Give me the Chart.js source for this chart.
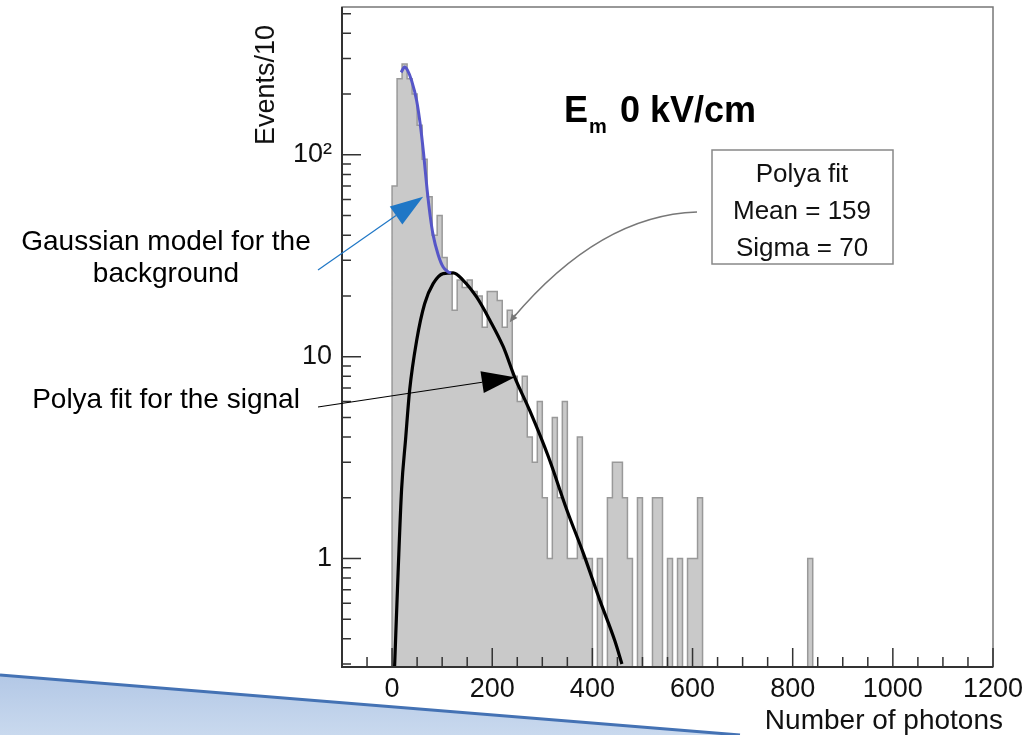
<!DOCTYPE html>
<html>
<head>
<meta charset="utf-8">
<script src="https://cdn.jsdelivr.net/npm/chart.js@4.4.1/dist/chart.umd.min.js"></script>
<style>
  html, body { margin: 0; padding: 0; background: #fff; }
  #wrap { width: 1024px; height: 735px; }
</style>
</head>
<body>
<div id="wrap"><canvas id="chart" width="1024" height="735"></canvas></div>
<script>
const FONT = "'Liberation Sans', Arial, Helvetica, sans-serif";

// axis ranges
const X_MIN = -100;
const X_MAX = 1200;
const Y_MIN = 0.29;
const Y_MAX = 540;
const xTicks = [0, 200, 400, 600, 800, 1000, 1200];
const yTicks = [1, 10, 100];

// histogram: events per 10 photons, bins start at 0
const BIN_START = 0;
const BIN_WIDTH = 10;
const counts = [
  70, 238, 282, 238, 200, 140, 95, 62, 40, 50,
  31, 26, 17, 24, 22, 24, 21, 20, 14, 21,
  21, 19, 14, 17, 8, 6, 8, 4, 3, 6,
  2, 1, 5, 2, 6, 1, 1, 4, 1, 1,
  0, 1, 0, 2, 3, 3, 2, 1, 0, 2,
  0, 0, 2, 2, 0, 1, 0, 1, 0, 1,
  1, 2, 0, 0, 0, 0, 0, 0, 0, 0,
  0, 0, 0, 0, 0, 0, 0, 0, 0, 0,
  0, 0, 0, 1, 0,
];

// Gaussian background model (blue)
const gaussX = [18, 25, 31, 39, 49, 57, 63, 70, 76, 82, 92, 102, 112, 118];
const gaussY = [256, 272, 262, 233, 186, 137, 101, 67, 50, 40, 32, 27.8, 26.3, 26];

// Polya fit for the signal (black)
const polyaX = [5, 12, 19, 27, 35, 49, 65, 82, 102, 122, 142, 169, 195, 222, 245, 275, 312, 349, 382, 415, 445, 459];
const polyaY = [0.29, 0.85, 2.2, 3.9, 6.8, 12, 18.3, 23, 25.8, 26, 23.9, 19.7, 15.2, 11.2, 7.9, 5.4, 3.2, 1.74, 1.06, 0.62, 0.39, 0.3];

// empty bins drop below the visible axis
const FLOOR = 0.05;
const histPoints = [{ x: BIN_START, y: FLOOR }];
counts.forEach((c, i) => histPoints.push({ x: BIN_START + i * BIN_WIDTH, y: c > 0 ? c : FLOOR }));
histPoints.push({ x: BIN_START + counts.length * BIN_WIDTH, y: FLOOR });

function drawArrow(ctx, x0, y0, x1, y1, headLen, headHalf, color, lw) {
  const ang = Math.atan2(y1 - y0, x1 - x0);
  const bx = x1 - headLen * Math.cos(ang);
  const by = y1 - headLen * Math.sin(ang);
  ctx.save();
  ctx.strokeStyle = color;
  ctx.fillStyle = color;
  ctx.lineWidth = lw;
  ctx.beginPath();
  ctx.moveTo(x0, y0);
  ctx.lineTo(bx, by);
  ctx.stroke();
  ctx.beginPath();
  ctx.moveTo(x1, y1);
  ctx.lineTo(bx + headHalf * Math.sin(ang), by - headHalf * Math.cos(ang));
  ctx.lineTo(bx - headHalf * Math.sin(ang), by + headHalf * Math.cos(ang));
  ctx.closePath();
  ctx.fill();
  ctx.restore();
}

const slideBackdrop = {
  id: "slideBackdrop",
  beforeDraw(chart) {
    const { ctx } = chart;
    ctx.save();
    ctx.fillStyle = "#fff";
    ctx.fillRect(0, 0, chart.width, chart.height);
    const g = ctx.createLinearGradient(0, 676, 0, 735);
    g.addColorStop(0, "#b3c8e6");
    g.addColorStop(1, "#c9d9ee");
    ctx.beginPath();
    ctx.moveTo(0, 675);
    ctx.lineTo(740, 735);
    ctx.lineTo(0, 735);
    ctx.closePath();
    ctx.fillStyle = g;
    ctx.fill();
    ctx.beginPath();
    ctx.moveTo(0, 675);
    ctx.lineTo(740, 735);
    ctx.strokeStyle = "#4472b4";
    ctx.lineWidth = 3;
    ctx.stroke();
    ctx.restore();
  },
};

const rootDecor = {
  id: "rootDecor",
  afterDraw(chart) {
    const { ctx, chartArea: a } = chart;
    const x = chart.scales.x;
    const y = chart.scales.y;
    ctx.save();

    // frame
    ctx.strokeStyle = "#777";
    ctx.lineWidth = 1.5;
    ctx.strokeRect(a.left, a.top, a.right - a.left, a.bottom - a.top);
    ctx.strokeStyle = "#333";
    ctx.lineWidth = 2;
    ctx.beginPath();
    ctx.moveTo(a.left, a.top);
    ctx.lineTo(a.left, a.bottom);
    ctx.lineTo(a.right, a.bottom);
    ctx.stroke();

    // inward ticks
    ctx.lineWidth = 1.5;
    ctx.strokeStyle = "#333";
    ctx.beginPath();
    for (let v = -50; v <= X_MAX; v += 50) {
      const px = x.getPixelForValue(v);
      const len = v % 200 === 0 ? 19 : 10;
      ctx.moveTo(px, a.bottom);
      ctx.lineTo(px, a.bottom - len);
    }
    for (const d of [0.1, 1, 10, 100]) {
      for (let m = 1; m <= 9; m++) {
        const v = m * d;
        if (v < Y_MIN || v > Y_MAX) continue;
        const py = y.getPixelForValue(v);
        const len = m === 1 ? 19 : 9;
        ctx.moveTo(a.left, py);
        ctx.lineTo(a.left + len, py);
      }
    }
    ctx.stroke();

    // axis titles
    ctx.fillStyle = "#111";
    ctx.font = `27px ${FONT}`;
    ctx.textAlign = "center";
    ctx.textBaseline = "middle";
    ctx.save();
    ctx.translate(267, 85);
    ctx.rotate(-Math.PI / 2);
    ctx.fillText("Events/10", 0, 0);
    ctx.restore();
    ctx.font = `28px ${FONT}`;
    ctx.textAlign = "right";
    ctx.textBaseline = "alphabetic";
    ctx.fillText("Number of photons", 1003, 729);

    // plot title
    ctx.textAlign = "left";
    ctx.fillStyle = "#000";
    ctx.font = `bold 36px ${FONT}`;
    ctx.fillText("E", 564, 122);
    ctx.fillText("0 kV/cm", 620, 122);
    ctx.font = `bold 20px ${FONT}`;
    ctx.fillText("m", 589, 133);

    // fit result box
    ctx.fillStyle = "#fff";
    ctx.fillRect(712, 150, 181, 114);
    ctx.strokeStyle = "#888";
    ctx.lineWidth = 1.5;
    ctx.strokeRect(712, 150, 181, 114);
    ctx.fillStyle = "#111";
    ctx.font = `26px ${FONT}`;
    ctx.textAlign = "center";
    ctx.fillText("Polya fit", 802, 182);
    ctx.fillText("Mean = 159", 802, 219);
    ctx.fillText("Sigma = 70", 802, 256);

    // connector from box to histogram
    const ex = x.getPixelForValue(235);
    const ey = y.getPixelForValue(14.8);
    ctx.strokeStyle = "#777";
    ctx.lineWidth = 1.5;
    ctx.beginPath();
    ctx.moveTo(697, 212);
    ctx.quadraticCurveTo(600, 215, ex + 3, ey - 4);
    ctx.stroke();
    drawArrow(ctx, ex + 6, ey - 8, ex, ey, 8, 3.5, "#777", 1.5);

    // slide annotations
    ctx.fillStyle = "#000";
    ctx.font = `28px ${FONT}`;
    ctx.textAlign = "center";
    ctx.fillText("Gaussian model for the", 166, 250);
    ctx.fillText("background", 166, 282);
    ctx.fillText("Polya fit for the signal", 166, 408);

    drawArrow(ctx, 318, 270, x.getPixelForValue(62), y.getPixelForValue(62), 33, 11, "#1f77c6", 1.2);
    drawArrow(ctx, 318, 407, x.getPixelForValue(245), y.getPixelForValue(7.9), 33, 11, "#000", 1.2);

    ctx.restore();
  },
};

new Chart(document.getElementById("chart"), {
  type: "line",
  data: {
    datasets: [
      {
        label: "Gaussian background",
        data: gaussX.map((v, i) => ({ x: v, y: gaussY[i] })),
        borderColor: "#5656c8",
        borderWidth: 3,
        pointRadius: 0,
        cubicInterpolationMode: "monotone",
        fill: false,
        order: 0,
      },
      {
        label: "Polya fit",
        data: polyaX.map((v, i) => ({ x: v, y: polyaY[i] })),
        borderColor: "#000",
        borderWidth: 3.2,
        pointRadius: 0,
        cubicInterpolationMode: "monotone",
        fill: false,
        order: 1,
      },
      {
        label: "Events",
        data: histPoints,
        stepped: "before",
        borderColor: "#999",
        borderWidth: 1.5,
        backgroundColor: "#c9c9c9",
        fill: "start",
        pointRadius: 0,
        order: 2,
      },
    ],
  },
  options: {
    responsive: false,
    animation: false,
    devicePixelRatio: 1,
    events: [],
    layout: { padding: { top: 7, right: 31, left: 0, bottom: 0 } },
    plugins: {
      legend: { display: false },
      tooltip: { enabled: false },
    },
    scales: {
      x: {
        type: "linear",
        min: X_MIN,
        max: X_MAX,
        grid: { display: false, drawTicks: false },
        border: { display: false },
        afterBuildTicks: (s) => { s.ticks = xTicks.map((v) => ({ value: v })); },
        ticks: {
          color: "#111",
          font: { family: FONT, size: 27 },
          padding: 6,
          maxRotation: 0,
          autoSkip: false,
          callback: (v) => String(v),
        },
        afterFit: (s) => { s.height = 68; s.paddingLeft = 0; s.paddingRight = 0; },
      },
      y: {
        type: "logarithmic",
        min: Y_MIN,
        max: Y_MAX,
        grid: { display: false, drawTicks: false },
        border: { display: false },
        afterBuildTicks: (s) => { s.ticks = yTicks.map((v) => ({ value: v })); },
        ticks: {
          color: "#111",
          font: { family: FONT, size: 27 },
          padding: 10,
          autoSkip: false,
          callback: (v) => (v === 100 ? "10²" : String(v)),
        },
        afterFit: (s) => { s.width = 342; s.paddingTop = 0; s.paddingBottom = 0; },
      },
    },
  },
  plugins: [slideBackdrop, rootDecor],
});
</script>
</body>
</html>
